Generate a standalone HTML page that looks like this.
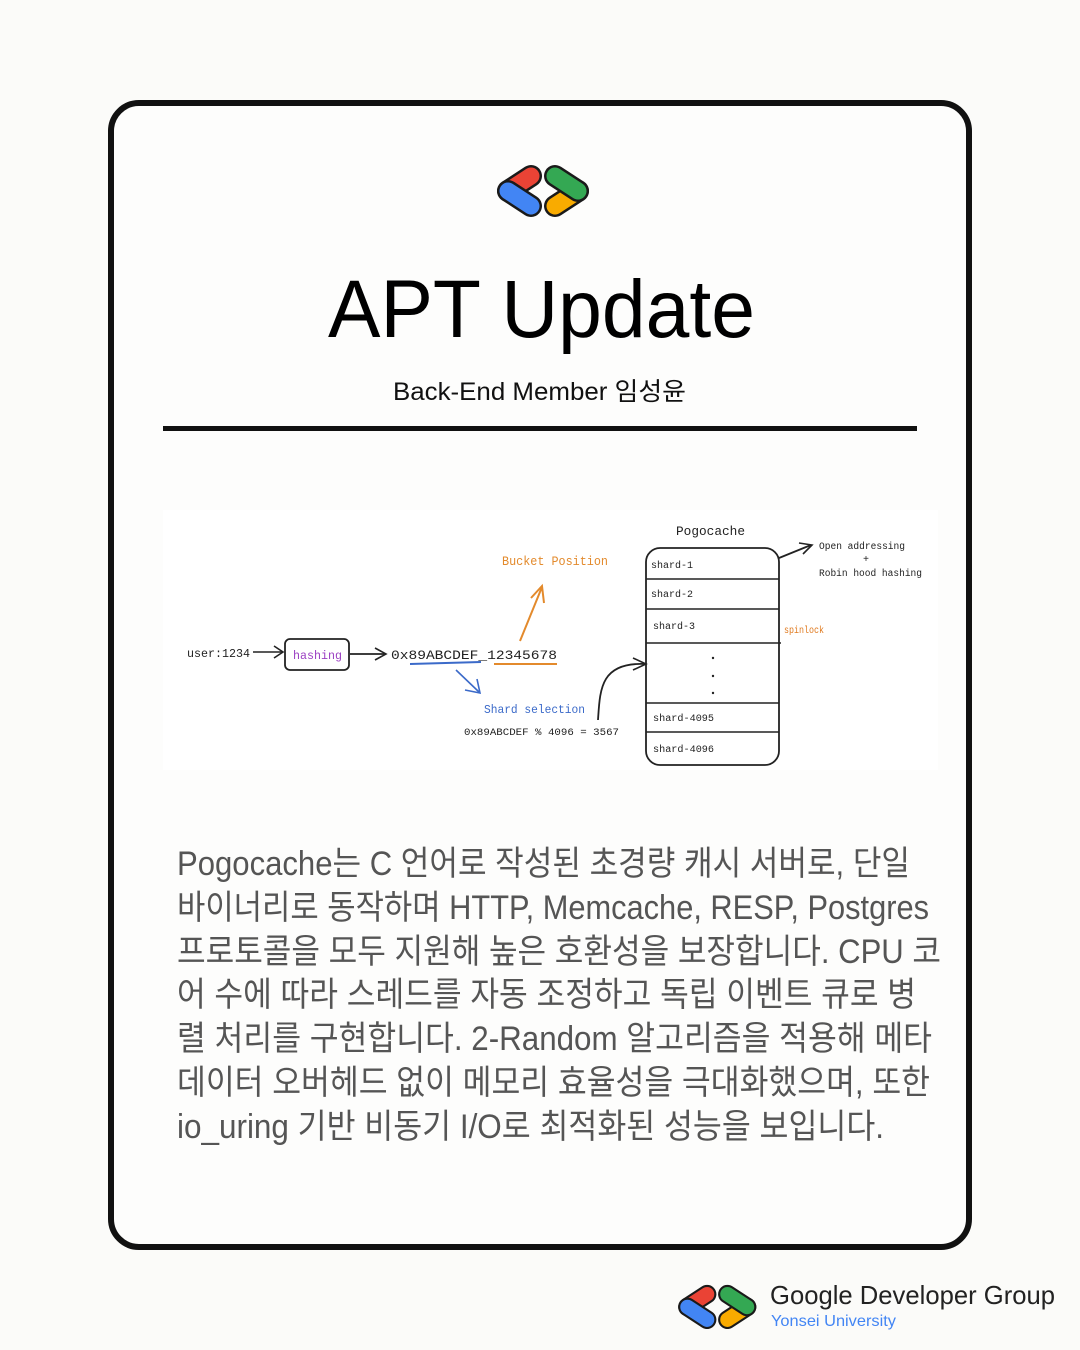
<!DOCTYPE html>
<html><head><meta charset="utf-8"><style>
html,body{margin:0;padding:0;background:#fbfbf9;}
body{width:1080px;height:1350px;position:relative;overflow:hidden;font-family:"Liberation Sans","Noto Sans CJK KR",sans-serif;}
</style></head><body>
<svg width="1080" height="1350" viewBox="0 0 1080 1350" xmlns="http://www.w3.org/2000/svg" style="position:absolute;left:0;top:0">
<defs>
<g id="logo">
 <line x1="10" y1="27" x2="33" y2="12" stroke="#1a1a1a" stroke-width="22" stroke-linecap="round"/>
 <line x1="10" y1="27" x2="33" y2="12" stroke="#ea4335" stroke-width="17" stroke-linecap="round"/>
 <line x1="10" y1="27" x2="33" y2="42" stroke="#1a1a1a" stroke-width="22" stroke-linecap="round"/>
 <line x1="10" y1="27" x2="33" y2="42" stroke="#4285f4" stroke-width="17" stroke-linecap="round"/>
 <line x1="80" y1="27" x2="57" y2="42" stroke="#1a1a1a" stroke-width="22" stroke-linecap="round"/>
 <line x1="80" y1="27" x2="57" y2="42" stroke="#f9ab00" stroke-width="17" stroke-linecap="round"/>
 <line x1="57" y1="12" x2="80" y2="27" stroke="#1a1a1a" stroke-width="22" stroke-linecap="round"/>
 <line x1="57" y1="12" x2="80" y2="27" stroke="#34a853" stroke-width="17" stroke-linecap="round"/>
</g>
</defs>
<rect x="111" y="103" width="858" height="1144" rx="28" fill="#fdfdfc" stroke="#111" stroke-width="6"/>
<use href="#logo" transform="translate(498,164)"/>
<text x="328" y="337" font-size="82" textLength="427" lengthAdjust="spacingAndGlyphs" fill="#000" font-family="Liberation Sans, sans-serif">APT Update</text>
<text x="393" y="400" font-size="25" textLength="293" lengthAdjust="spacingAndGlyphs" fill="#111" font-family="Liberation Sans, Noto Sans CJK KR, sans-serif">Back-End Member 임성윤</text>
<rect x="163" y="426" width="754" height="5" fill="#111"/>

<!-- diagram -->
<rect x="163" y="510" width="775" height="260" fill="#ffffff"/>
<g font-family="Liberation Mono, monospace" fill="#222">
<text x="187" y="657" font-size="12" textLength="63" lengthAdjust="spacingAndGlyphs">user:1234</text>
<line x1="253" y1="652" x2="282" y2="652" stroke="#222" stroke-width="1.6"/>
<path d="M274 646 L283 652 L274 658" fill="none" stroke="#222" stroke-width="1.6"/>
<rect x="285" y="639" width="64" height="31" rx="5" fill="none" stroke="#222" stroke-width="1.8"/>
<text x="293" y="659" font-size="12" fill="#9b3fc2" textLength="49" lengthAdjust="spacingAndGlyphs">hashing</text>
<line x1="350" y1="654" x2="385" y2="654" stroke="#222" stroke-width="1.8"/>
<path d="M375 648 L386 654 L375 660" fill="none" stroke="#222" stroke-width="1.6"/>
<text x="391" y="659" font-size="12.5" textLength="166" lengthAdjust="spacingAndGlyphs">0x89ABCDEF_12345678</text>
<line x1="410" y1="664" x2="481" y2="662" stroke="#3b6ac9" stroke-width="2"/>
<line x1="494" y1="664" x2="557" y2="664" stroke="#e38a2c" stroke-width="2"/>
<line x1="520" y1="641" x2="542" y2="587" stroke="#e38a2c" stroke-width="2"/>
<path d="M531 598 L542 586 L544 603" fill="none" stroke="#e38a2c" stroke-width="2"/>
<text x="502" y="565" font-size="12.5" fill="#e38a2c" textLength="106" lengthAdjust="spacingAndGlyphs">Bucket Position</text>
<line x1="456" y1="670" x2="479" y2="692" stroke="#3b6ac9" stroke-width="1.6"/>
<path d="M465 690 L480 693 L477 679" fill="none" stroke="#3b6ac9" stroke-width="1.6"/>
<text x="484" y="713" font-size="12" fill="#3b6ac9" textLength="101" lengthAdjust="spacingAndGlyphs">Shard selection</text>
<text x="464" y="735" font-size="10" textLength="155" lengthAdjust="spacingAndGlyphs">0x89ABCDEF % 4096 = 3567</text>
<path d="M598 720 C600 690 600 662 645 664" fill="none" stroke="#222" stroke-width="1.8"/>
<path d="M633 658 L646 664 L633 670" fill="none" stroke="#222" stroke-width="1.6"/>
<text x="676" y="535" font-size="12.5" textLength="69" lengthAdjust="spacingAndGlyphs">Pogocache</text>
<rect x="646" y="548" width="133" height="217" rx="14" fill="none" stroke="#222" stroke-width="1.8"/>
<line x1="646" y1="579" x2="779" y2="579" stroke="#222" stroke-width="1.6"/>
<line x1="646" y1="609" x2="779" y2="609" stroke="#222" stroke-width="1.6"/>
<line x1="646" y1="643" x2="781" y2="643" stroke="#222" stroke-width="1.6"/>
<line x1="646" y1="703" x2="779" y2="703" stroke="#222" stroke-width="1.6"/>
<line x1="646" y1="732" x2="779" y2="732" stroke="#222" stroke-width="1.6"/>
<text x="651" y="568" font-size="10">shard-1</text>
<text x="651" y="597" font-size="10">shard-2</text>
<text x="653" y="629" font-size="10">shard-3</text>
<text x="653" y="721" font-size="10" textLength="61" lengthAdjust="spacingAndGlyphs">shard-4095</text>
<text x="653" y="752" font-size="10" textLength="61" lengthAdjust="spacingAndGlyphs">shard-4096</text>
<circle cx="713" cy="658" r="1.2"/><circle cx="713" cy="676" r="1.2"/><circle cx="713" cy="693" r="1.2"/>
<text x="784" y="633" font-size="10" fill="#e07a1f" textLength="40" lengthAdjust="spacingAndGlyphs">spinlock</text>
<line x1="779" y1="558" x2="811" y2="545" stroke="#222" stroke-width="1.8"/>
<path d="M799 543 L812 545 L803 554" fill="none" stroke="#222" stroke-width="1.6"/>
<text x="819" y="549" font-size="10" textLength="86" lengthAdjust="spacingAndGlyphs">Open addressing</text>
<text x="863" y="562" font-size="10">+</text>
<text x="819" y="576" font-size="10" textLength="103" lengthAdjust="spacingAndGlyphs">Robin hood hashing</text>
</g>

<!-- body -->
<g font-family="Liberation Sans, Noto Sans CJK KR, sans-serif" font-size="34" fill="#555">
<text x="177" y="875" textLength="733" lengthAdjust="spacingAndGlyphs">Pogocache는 C 언어로 작성된 초경량 캐시 서버로, 단일</text>
<text x="177" y="919" textLength="752" lengthAdjust="spacingAndGlyphs">바이너리로 동작하며 HTTP, Memcache, RESP, Postgres</text>
<text x="177" y="963" textLength="764" lengthAdjust="spacingAndGlyphs">프로토콜을 모두 지원해 높은 호환성을 보장합니다. CPU 코</text>
<text x="177" y="1006" textLength="739" lengthAdjust="spacingAndGlyphs">어 수에 따라 스레드를 자동 조정하고 독립 이벤트 큐로 병</text>
<text x="177" y="1050" textLength="755" lengthAdjust="spacingAndGlyphs">렬 처리를 구현합니다. 2-Random 알고리즘을 적용해 메타</text>
<text x="177" y="1094" textLength="753" lengthAdjust="spacingAndGlyphs">데이터 오버헤드 없이 메모리 효율성을 극대화했으며, 또한</text>
<text x="177" y="1138" textLength="707" lengthAdjust="spacingAndGlyphs">io_uring 기반 비동기 I/O로 최적화된 성능을 보입니다.</text>
</g>

<!-- footer -->
<use href="#logo" transform="translate(679,1284) scale(0.85)"/>
<text x="770" y="1304" font-size="26" fill="#222" font-family="Liberation Sans, sans-serif" textLength="285" lengthAdjust="spacingAndGlyphs">Google Developer Group</text>
<text x="771" y="1326" font-size="16" fill="#4285f4" font-family="Liberation Sans, sans-serif" textLength="125" lengthAdjust="spacingAndGlyphs">Yonsei University</text>
</svg>
</body></html>
